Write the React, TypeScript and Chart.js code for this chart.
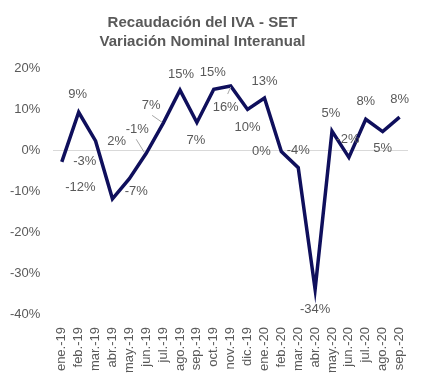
import React, { useEffect, useRef } from "react";
import { Chart, registerables } from "chart.js";

Chart.register(...registerables);

const categories = [
  "ene.-19", "feb.-19", "mar.-19", "abr.-19", "may.-19", "jun.-19", "jul.-19",
  "ago.-19", "sep.-19", "oct.-19", "nov.-19", "dic.-19", "ene.-20", "feb.-20",
  "mar.-20", "abr.-20", "may.-20", "jun.-20", "jul.-20", "ago.-20", "sep.-20",
];

const variation = [
  -2.9, 9.2, 2.2, -11.9, -7.0, -0.8, 6.5, 14.6, 6.7, 14.8, 15.6, 9.9, 12.7,
  -0.4, -4.3, -34.0, 4.6, -1.8, 7.5, 4.5, 8.0,
];

const titleLines = ["Recaudación del IVA - SET", "Variación Nominal Interanual"];

// label placement style (offset of label centre from point, px)
const labelOffsets: [number, number][] = [
  [23, 0], [-1, -18], [21, 0], [-32, -11], [7, 13], [-9, -24], [-12, -18],
  [1, -16], [-1, 18], [-1, -17], [-5, 21], [0, 18], [0, -17], [-20, 0],
  [0, -17], [0, 20], [-1, -18], [-1, -18], [0, -18], [0, 17], [0, -18],
];

// leader lines style: index -> [x1, y1, x2, y2] relative to point
const leaderLines: Record<number, number[]> = {
  5: [-10, -14, -2, -1],
  6: [-11, -8, -1, -1],
  10: [-3, 8, 0, 1],
};

const TEXT = "#595959";
const LINE = "#0F0F5C";
const FAMILY = "'Liberation Sans', Arial, sans-serif";

const labelPlugin = {
  id: "pointLabels",
  afterDatasetsDraw(chart: any) {
    const ctx = chart.ctx;
    const meta = chart.getDatasetMeta(0);
    ctx.save();
    meta.data.forEach((pt: any, i: number) => {
      const ll = leaderLines[i];
      if (ll) {
        ctx.strokeStyle = "#A6A6A6";
        ctx.lineWidth = 1;
        ctx.beginPath();
        ctx.moveTo(pt.x + ll[0], pt.y + ll[1]);
        ctx.lineTo(pt.x + ll[2], pt.y + ll[3]);
        ctx.stroke();
      }
      const [dx, dy] = labelOffsets[i];
      ctx.fillStyle = TEXT;
      ctx.font = "13px " + FAMILY;
      ctx.textAlign = "center";
      ctx.textBaseline = "middle";
      const v = Math.round(variation[i]);
      ctx.fillText((v === 0 ? 0 : v) + "%", pt.x + dx, pt.y + dy);
    });
    ctx.restore();
  },
};

export default function App() {
  const ref = useRef<HTMLCanvasElement>(null);
  useEffect(() => {
    document.body.style.margin = "0";
    const chart = new Chart(ref.current!, {
      type: "line",
      data: {
        labels: categories,
        datasets: [
          {
            data: variation,
            borderColor: LINE,
            borderWidth: 3.5,
            pointRadius: 0,
            tension: 0,
            fill: false,
          },
        ],
      },
      options: {
        animation: false,
        responsive: false,
        layout: { padding: { left: -3, right: 14, top: 4, bottom: 6 } },
        plugins: {
          legend: { display: false },
          tooltip: { enabled: false },
          title: {
            display: true,
            text: titleLines,
            color: TEXT,
            font: { size: 15, weight: "bold", family: FAMILY, lineHeight: 1.3 },
            padding: { top: 9, bottom: 16 },
          },
        },
        scales: {
          x: {
            offset: true,
            grid: { display: false },
            border: { display: false },
            ticks: {
              color: TEXT,
              font: { size: 13, family: FAMILY },
              minRotation: 90,
              maxRotation: 90,
              autoSkip: false,
              padding: 5,
            },
          },
          y: {
            min: -40,
            max: 20,
            grid: {
              color: (c: any) => (c.tick && c.tick.value === 0 ? "#D9D9D9" : "transparent"),
              drawTicks: false,
              lineWidth: 1,
            },
            border: { display: false },
            ticks: {
              stepSize: 10,
              color: TEXT,
              padding: 13,
              font: { size: 13, family: FAMILY },
              callback: (v: any) => v + "%",
            },
          },
        },
      },
      plugins: [labelPlugin],
    });
    return () => chart.destroy();
  }, []);
  return <canvas ref={ref} width={422} height={384} style={{ display: "block" }} />;
}
